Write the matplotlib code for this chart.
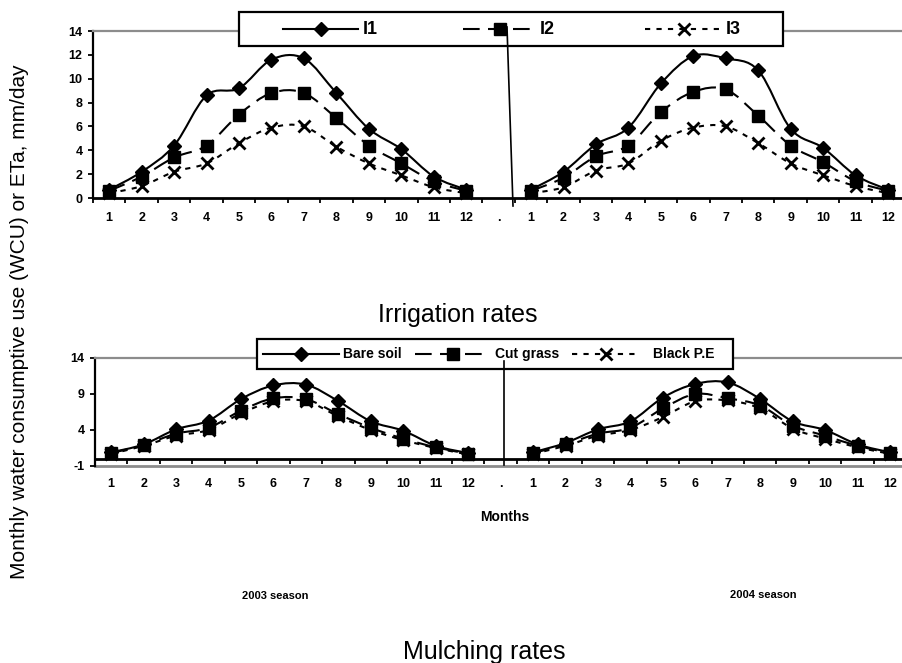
import matplotlib
matplotlib.use("Agg")
import matplotlib.pyplot as plt
import numpy as np
from matplotlib.lines import Line2D
from matplotlib.patches import PathPatch, Rectangle
from matplotlib.path import Path

# month categories: 2003 season, a "." spacer, 2004 season
months = [str(m) for m in range(1, 13)]
categories = months + ["."] + months
x_2003 = np.arange(1, 13)
x_2004 = np.arange(14, 26)

# irrigation rates (mm/day)
i1_2003 = [0.7, 2.2, 4.4, 8.6, 9.2, 11.6, 11.7, 8.8, 5.8, 4.1, 1.8, 0.7]
i2_2003 = [0.6, 1.8, 3.4, 4.4, 7.0, 8.8, 8.8, 6.7, 4.4, 2.9, 1.4, 0.6]
i3_2003 = [0.4, 1.0, 2.2, 2.9, 4.6, 5.9, 6.0, 4.3, 2.9, 1.9, 0.9, 0.4]
i1_2004 = [0.7, 2.2, 4.5, 5.9, 9.6, 11.9, 11.7, 10.7, 5.8, 4.2, 1.9, 0.7]
i2_2004 = [0.6, 1.7, 3.5, 4.4, 7.2, 8.9, 9.1, 6.9, 4.4, 3.0, 1.4, 0.6]
i3_2004 = [0.4, 0.9, 2.3, 2.9, 4.8, 5.9, 6.0, 4.6, 2.9, 1.9, 1.0, 0.4]

# mulching rates (mm/day)
bare_2003 = [0.9, 2.0, 4.1, 5.3, 8.3, 10.2, 10.3, 8.0, 5.2, 3.9, 1.8, 0.8]
cut_2003 = [0.8, 1.9, 3.5, 4.3, 6.7, 8.4, 8.3, 6.2, 4.3, 2.8, 1.6, 0.7]
black_2003 = [0.7, 1.8, 3.2, 4.0, 6.3, 8.0, 8.0, 5.9, 4.0, 2.6, 1.5, 0.6]
bare_2004 = [0.9, 2.2, 4.1, 5.2, 8.5, 10.4, 10.6, 8.3, 5.2, 4.0, 2.0, 0.9]
cut_2004 = [0.8, 2.0, 3.5, 4.3, 7.0, 9.0, 8.4, 7.4, 4.6, 3.2, 1.8, 0.8]
black_2004 = [0.7, 1.8, 3.2, 4.0, 5.8, 8.0, 8.1, 7.0, 4.2, 2.8, 1.6, 0.7]

top_yticks = [0, 2, 4, 6, 8, 10, 12, 14]
bot_yticks = [-1, 4, 9, 14]

W, H = 902, 663
SOLID = "-"
LONG = (0, (8, 4))
SHORT = (0, (2.5, 3))
styles = {
    "I1": dict(ls=SOLID, marker="D", ms=7),
    "I2": dict(ls=LONG, marker="s", ms=8),
    "I3": dict(ls=SHORT, marker="x", ms=8.5),
}

plt.rcParams["font.family"] = "Liberation Sans"
plt.rcParams["axes.unicode_minus"] = False


def fx(px):
    return px / W


def fy(py):
    return 1 - py / H


def smooth_path(x, y):
    # Excel-like smoothed line as cubic Bezier segments through the points
    pts = np.column_stack([x, y]).astype(float)
    n = len(pts)
    verts = [pts[0]]
    codes = [Path.MOVETO]
    for i in range(n - 1):
        p0 = pts[max(i - 1, 0)]
        p1 = pts[i]
        p2 = pts[i + 1]
        p3 = pts[min(i + 2, n - 1)]
        verts += [p1 + (p2 - p0) / 6, p2 - (p3 - p1) / 6, p2]
        codes += [Path.CURVE4] * 3
    return Path(verts, codes)


def draw_series(ax, x, y, st):
    ax.add_patch(PathPatch(smooth_path(x, y), facecolor="none",
                           edgecolor="black", lw=1.5, linestyle=st["ls"],
                           zorder=3))
    mew = 2 if st["marker"] == "x" else 1
    ax.plot(x, y, linestyle="none", marker=st["marker"], ms=st["ms"],
            color="black", mew=mew, zorder=4, clip_on=False)


def style_axis(ax, yticks, ylim, label_pad):
    ax.set_xlim(0.5, 25.5)
    ax.set_ylim(*ylim)
    ax.set_xticks(np.arange(1, 26))
    ax.set_xticklabels(categories)
    ax.set_xticks(np.arange(0.5, 26, 1), minor=True)
    ax.set_yticks(yticks)
    ax.tick_params(axis="x", which="major", length=0, pad=label_pad)
    ax.tick_params(axis="x", which="minor", length=3.6, width=1.3,
                   direction="out")
    ax.tick_params(axis="y", length=3.5, width=1.3, pad=4)
    for lab in ax.get_xticklabels() + ax.get_yticklabels():
        lab.set_fontweight("bold")
        lab.set_fontsize(9)
    ax.spines["right"].set_visible(False)
    ax.spines["top"].set_color("#8c8c8c")
    ax.spines["top"].set_linewidth(1.6)
    ax.spines["left"].set_linewidth(1.6)
    ax.spines["bottom"].set_linewidth(2)
    ax.patch.set_visible(False)


def legend_box(fig, box, entries, fs):
    x0, y0, x1, y1 = box
    fig.add_artist(Rectangle((fx(x0), fy(y1)), fx(x1) - fx(x0),
                             fy(y0) - fy(y1), transform=fig.transFigure,
                             facecolor="white", edgecolor="black", lw=1.6,
                             zorder=5))
    yc = fy((y0 + y1) / 2)
    for (h0, h1, tx, label, st) in entries:
        fig.add_artist(Line2D([fx(h0), fx(h1)], [yc, yc],
                              transform=fig.transFigure, color="black",
                              lw=1.5, linestyle=st["ls"], zorder=6))
        mew = 2 if st["marker"] == "x" else 1
        fig.add_artist(Line2D([fx((h0 + h1) / 2)], [yc],
                              transform=fig.transFigure, linestyle="none",
                              marker=st["marker"], ms=st["ms"], mew=mew,
                              color="black", zorder=6))
        fig.text(fx(tx), yc, label, ha="left", va="center", fontsize=fs,
                 fontweight="bold", zorder=6)


fig = plt.figure(figsize=(W / 100, H / 100), dpi=100)
unit = 32.45
ax_top = fig.add_axes([fx(93), fy(198), 25 * unit / W, (198 - 31) / H])
ax_bot = fig.add_axes([fx(95), fy(466), 25 * unit / W, (466 - 358) / H])

# top chart: irrigation rates
for name, y03, y04 in [("I1", i1_2003, i1_2004), ("I2", i2_2003, i2_2004),
                       ("I3", i3_2003, i3_2004)]:
    draw_series(ax_top, x_2003, y03, styles[name])
    draw_series(ax_top, x_2004, y04, styles[name])
style_axis(ax_top, top_yticks, (0, 14), 10)

# bottom chart: mulching rates, x axis drawn on the zero line
ax_bot.spines["bottom"].set_position(("data", 0))
for name, y03, y04 in [("I1", bare_2003, bare_2004),
                       ("I2", cut_2003, cut_2004),
                       ("I3", black_2003, black_2004)]:
    draw_series(ax_bot, x_2003, y03, styles[name])
    draw_series(ax_bot, x_2004, y04, styles[name])
style_axis(ax_bot, bot_yticks, (-1, 14), 14)
ax_bot.axhline(-1, color="#8c8c8c", lw=2, zorder=2, clip_on=False)

# legends
legend_box(fig, (239, 12, 783, 46), [
    (283, 358, 363, "I1", styles["I1"]),
    (463, 537, 540, "I2", styles["I2"]),
    (645, 722, 726, "I3", styles["I3"]),
], 13)
legend_box(fig, (257, 339, 733, 369), [
    (263, 339, 343, "Bare soil", styles["I1"]),
    (415, 490, 495, "Cut grass", styles["I2"]),
    (572, 640, 653, "Black P.E", styles["I3"]),
], 10)

# season separators
fig.add_artist(Line2D([fx(507), fx(513)], [fy(27), fy(206)],
                      transform=fig.transFigure, color="black", lw=1.2,
                      zorder=7))
fig.add_artist(Line2D([fx(504), fx(504)], [fy(361), fy(465)],
                      transform=fig.transFigure, color="black", lw=1.2,
                      zorder=7))

# texts
fig.text(fx(458), fy(322), "Irrigation rates", ha="center", va="baseline",
         fontsize=18)
fig.text(fx(484), fy(659), "Mulching rates", ha="center", va="baseline",
         fontsize=18)
fig.text(fx(505), fy(517), "Months", ha="center", va="center", fontsize=10,
         fontweight="bold")
fig.text(fx(275), fy(596), "2003 season", ha="center", va="center",
         fontsize=8, fontweight="bold")
fig.text(fx(763), fy(595), "2004 season", ha="center", va="center",
         fontsize=8, fontweight="bold")
fig.text(fx(20), fy(322), "Monthly water consumptive use (WCU) or ETa, mm/day",
         ha="center", va="center", rotation=90, fontsize=15)

fig.savefig("out.png", dpi=100)
